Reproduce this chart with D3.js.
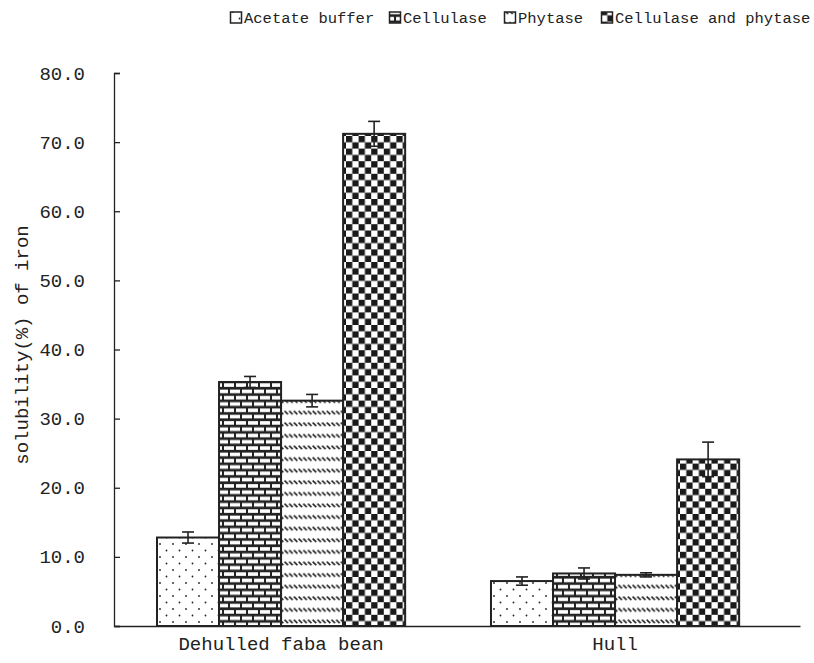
<!DOCTYPE html>
<html>
<head>
<meta charset="utf-8">
<script src="https://cdn.jsdelivr.net/npm/d3@7"></script>
<style>
  body { margin: 0; background: #fff; }
  svg text { font-family: "Liberation Mono", "DejaVu Sans Mono", monospace; fill: #222; }
</style>
</head>
<body>
<div id="chart"></div>
<script>
// data
const categories = ["Dehulled faba bean", "Hull"];
const seriesNames = ["Acetate buffer", "Cellulase", "Phytase", "Cellulase and phytase"];
const acetateValues = [12.8, 6.5];
const cellulaseValues = [35.3, 7.6];
const phytaseValues = [32.6, 7.4];
const comboValues = [71.2, 24.1];
const acetateErr = [0.8, 0.6];
const cellulaseErr = [0.8, 0.8];
const phytaseErr = [0.9, 0.3];
const comboErr = [1.8, 2.5];
const yTicks = [0, 10, 20, 30, 40, 50, 60, 70, 80];

const seriesValues = [acetateValues, cellulaseValues, phytaseValues, comboValues];
const seriesErr = [acetateErr, cellulaseErr, phytaseErr, comboErr];
const patternIds = ["p-dots", "p-brick", "p-dash", "p-check"];

const width = 814, height = 663;
const margin = { top: 73, right: 14, bottom: 37, left: 114 };
const innerW = width - margin.left - margin.right;
const innerH = height - margin.top - margin.bottom;

const svg = d3.select("#chart").append("svg")
    .attr("width", width)
    .attr("height", height);

// fill patterns
const defs = svg.append("defs");
const dots = defs.append("pattern").attr("id", "p-dots").attr("patternUnits", "userSpaceOnUse")
    .attr("width", 13).attr("height", 13);
dots.append("rect").attr("width", 13).attr("height", 13).attr("fill", "#fff");
dots.append("circle").attr("cx", 3).attr("cy", 3).attr("r", 0.9).attr("fill", "#222");
dots.append("circle").attr("cx", 9.5).attr("cy", 9.5).attr("r", 0.9).attr("fill", "#222");

const brick = defs.append("pattern").attr("id", "p-brick").attr("patternUnits", "userSpaceOnUse")
    .attr("width", 12).attr("height", 12.6);
brick.append("rect").attr("width", 12).attr("height", 12.6).attr("fill", "#222");
brick.append("rect").attr("x", 1).attr("y", 1.6).attr("width", 10).attr("height", 3.6).attr("fill", "#fff");
brick.append("rect").attr("x", 7).attr("y", 7.9).attr("width", 5).attr("height", 3.6).attr("fill", "#fff");
brick.append("rect").attr("x", 0).attr("y", 7.9).attr("width", 5).attr("height", 3.6).attr("fill", "#fff");

const dash = defs.append("pattern").attr("id", "p-dash").attr("patternUnits", "userSpaceOnUse")
    .attr("width", 4.7).attr("height", 11.6);
dash.append("rect").attr("width", 4.7).attr("height", 11.6).attr("fill", "#fff");
dash.append("line").attr("x1", 0.6).attr("y1", 1.5).attr("x2", 4.1).attr("y2", 5)
    .attr("stroke", "#222").attr("stroke-width", 1.6);

const check = defs.append("pattern").attr("id", "p-check").attr("patternUnits", "userSpaceOnUse")
    .attr("width", 12.6).attr("height", 12.6);
check.append("rect").attr("width", 12.6).attr("height", 12.6).attr("fill", "#fff");
check.append("rect").attr("width", 6.3).attr("height", 6.3).attr("fill", "#1a1a1a");
check.append("rect").attr("x", 6.3).attr("y", 6.3).attr("width", 6.3).attr("height", 6.3).attr("fill", "#1a1a1a");

const g = svg.append("g").attr("transform", `translate(${margin.left},${margin.top})`);

const x0 = d3.scaleBand().domain(categories).range([0, innerW])
    .paddingInner(0.257).paddingOuter(0.1555).align(0.414);
const x1 = d3.scaleBand().domain(seriesNames).range([0, x0.bandwidth()]).padding(0);
const y = d3.scaleLinear().domain([0, 80]).range([innerH, 0]);

// axes
const yAxis = g.append("g")
    .call(d3.axisLeft(y).tickValues(yTicks).tickFormat(d3.format(".1f"))
        .tickSizeInner(-6).tickSizeOuter(-6).tickPadding(29));
yAxis.selectAll("path, line").attr("stroke", "#222").attr("stroke-width", 1.3);
yAxis.selectAll("text").style("font-size", "19px").attr("fill", "#222");

const xAxis = g.append("g").attr("transform", `translate(0,${innerH})`)
    .call(d3.axisBottom(x0).tickSize(0).tickPadding(11));
xAxis.select(".domain").attr("stroke", "#222").attr("stroke-width", 1.3);
xAxis.selectAll("text").style("font-size", "19px").attr("fill", "#222");

// y label
svg.append("text")
    .attr("transform", `translate(21,345) rotate(-90)`)
    .attr("text-anchor", "middle")
    .attr("dy", "0.35em")
    .style("font-size", "19px")
    .text("solubility(%) of iron");

// bars
const rows = categories.map((c, i) => ({
    cat: c,
    items: seriesNames.map((s, k) => ({ s, k, v: seriesValues[k][i], e: seriesErr[k][i] }))
}));

const groups = g.selectAll(".grp").data(rows).join("g")
    .attr("class", "grp")
    .attr("transform", d => `translate(${x0(d.cat)},0)`);

groups.selectAll("rect.bar").data(d => d.items).join("rect")
    .attr("class", "bar")
    .attr("x", d => x1(d.s))
    .attr("y", d => y(d.v))
    .attr("width", x1.bandwidth())
    .attr("height", d => y(0) - y(d.v))
    .attr("fill", d => `url(#${patternIds[d.k]})`)
    .attr("stroke", "#222")
    .attr("stroke-width", 2);

// error bars
const cap = 6;
const eb = groups.selectAll("g.err").data(d => d.items).join("g").attr("class", "err")
    .attr("stroke", "#222").attr("stroke-width", 1.6);
eb.append("line")
    .attr("x1", d => x1(d.s) + x1.bandwidth() / 2).attr("x2", d => x1(d.s) + x1.bandwidth() / 2)
    .attr("y1", d => y(d.v + d.e)).attr("y2", d => y(d.v - d.e));
eb.append("line")
    .attr("x1", d => x1(d.s) + x1.bandwidth() / 2 - cap).attr("x2", d => x1(d.s) + x1.bandwidth() / 2 + cap)
    .attr("y1", d => y(d.v + d.e)).attr("y2", d => y(d.v + d.e));
eb.append("line")
    .attr("x1", d => x1(d.s) + x1.bandwidth() / 2 - cap).attr("x2", d => x1(d.s) + x1.bandwidth() / 2 + cap)
    .attr("y1", d => y(d.v - d.e)).attr("y2", d => y(d.v - d.e));

// legend
const legendX = [230, 389, 504, 601];
const legend = svg.append("g").attr("transform", "translate(0,9)");
const li = legend.selectAll("g").data(seriesNames).join("g")
    .attr("transform", (d, i) => `translate(${legendX[i]},0)`);
li.append("rect").attr("x", 0.5).attr("y", 3).attr("width", 11).attr("height", 11)
    .attr("fill", (d, i) => `url(#${patternIds[i]})`)
    .attr("stroke", "#222").attr("stroke-width", 1.5);
li.append("text").attr("x", 14).attr("y", 14)
    .style("font-size", "15.5px")
    .text(d => d);
</script>
</body>
</html>
